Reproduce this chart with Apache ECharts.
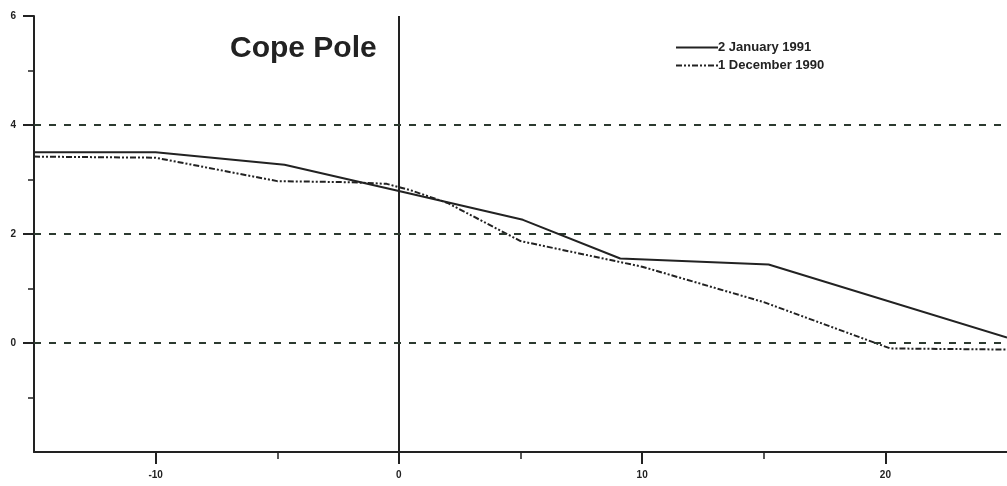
<!DOCTYPE html>
<html>
<head>
<meta charset="utf-8">
<title>Cope Pole</title>
<script src="https://cdn.jsdelivr.net/npm/echarts@6/dist/echarts.min.js"></script>
<style>
  html, body { margin: 0; padding: 0; background: #ffffff; }
  #chart { width: 1007px; height: 486px; }
</style>
</head>
<body>
<div id="chart"></div>
<script>
// Profile readings for the two survey dates
const seriesNames = ['2 January 1991', '1 December 1990'];
const janX = [-15, -10, -4.7, 0, 5.1, 9.1, 15.2, 25];
const janY = [3.5, 3.5, 3.27, 2.79, 2.26, 1.55, 1.44, 0.1];
const decX = [-15, -10, -5, -2, -0.5, 0.5, 2, 5, 10, 15, 20.2, 25];
const decY = [3.42, 3.4, 2.97, 2.95, 2.92, 2.8, 2.57, 1.87, 1.4, 0.75, -0.1, -0.12];

// Axis ticks and labels
const xLabelValues = [-10, 0, 10, 20];
const xMinorValues = [-5, 5, 15];
const yLabelValues = [0, 2, 4, 6];
const yMinorValues = [-1, 1, 3, 5];
const refLevels = [0, 2, 4];

const ink = '#222222';
const fontFamily = 'Liberation Sans, Arial, sans-serif';
const labelFont = { fontFamily: fontFamily, fontWeight: 'bold', fontSize: 10, color: ink };

const chart = echarts.init(document.getElementById('chart'), null, { renderer: 'canvas' });

const pairs = (xs, ys) => xs.map((x, i) => [x, ys[i]]);

chart.setOption({
  backgroundColor: '#ffffff',
  animation: false,
  title: {
    text: 'Cope Pole',
    left: 225,
    top: 29,
    textStyle: { fontFamily: fontFamily, fontWeight: 'bold', fontSize: 30, color: ink }
  },
  legend: {
    orient: 'vertical',
    left: 670,
    top: 36,
    itemWidth: 42,
    itemHeight: 10,
    itemGap: 5,
    data: seriesNames,
    itemStyle: { opacity: 0 },
    textStyle: { fontFamily: fontFamily, fontWeight: 'bold', fontSize: 13, color: ink, padding: [0, 0, 0, -5] }
  },
  grid: { left: 34, right: 0, top: 16, bottom: 34, containLabel: false },
  xAxis: [
    {
      type: 'value', min: -15, max: 25, interval: 5,
      axisLine: { show: true, onZero: false, lineStyle: { color: ink, width: 2 } },
      axisTick: { show: true, customValues: xLabelValues, length: 12, lineStyle: { color: ink, width: 2 } },
      axisLabel: Object.assign({ customValues: xLabelValues, margin: 18 }, labelFont),
      splitLine: { show: false }
    },
    {
      type: 'value', min: -15, max: 25, interval: 5, position: 'bottom',
      axisLine: { show: false, onZero: false },
      axisTick: { show: true, customValues: xMinorValues, length: 7, lineStyle: { color: ink, width: 1.5 } },
      axisLabel: { show: false },
      splitLine: { show: false }
    }
  ],
  yAxis: [
    {
      type: 'value', min: -2, max: 6, interval: 2,
      axisLine: { show: true, onZero: false, lineStyle: { color: ink, width: 2 } },
      axisTick: { show: true, customValues: yLabelValues, length: 11, lineStyle: { color: ink, width: 2 } },
      axisLabel: Object.assign({ customValues: yLabelValues, margin: 18 }, labelFont),
      splitLine: { show: false }
    },
    {
      type: 'value', min: -2, max: 6, interval: 2, position: 'left',
      axisLine: { show: false, onZero: false },
      axisTick: { show: true, customValues: yMinorValues, length: 6, lineStyle: { color: ink, width: 1.5 } },
      axisLabel: { show: false },
      splitLine: { show: false }
    }
  ],
  series: [
    {
      name: seriesNames[0],
      type: 'line',
      data: pairs(janX, janY),
      symbol: 'none',
      z: 5,
      lineStyle: { color: ink, width: 2, type: 'solid' },
      itemStyle: { color: ink },
      markLine: {
        silent: true,
        symbol: 'none',
        label: { show: false },
        lineStyle: { color: ink, width: 2, type: 'solid' },
        data: [{ xAxis: 0 }]
      }
    },
    {
      name: seriesNames[1],
      type: 'line',
      data: pairs(decX, decY),
      symbol: 'none',
      z: 4,
      lineStyle: { color: ink, width: 2, type: [6, 2, 2, 2, 2, 2] },
      itemStyle: { color: ink },
      markLine: {
        silent: true,
        symbol: 'none',
        label: { show: false },
        lineStyle: { color: '#2c3a30', width: 2, type: [7, 8] },
        data: refLevels.map(v => ({ yAxis: v }))
      }
    }
  ]
});
</script>
</body>
</html>
